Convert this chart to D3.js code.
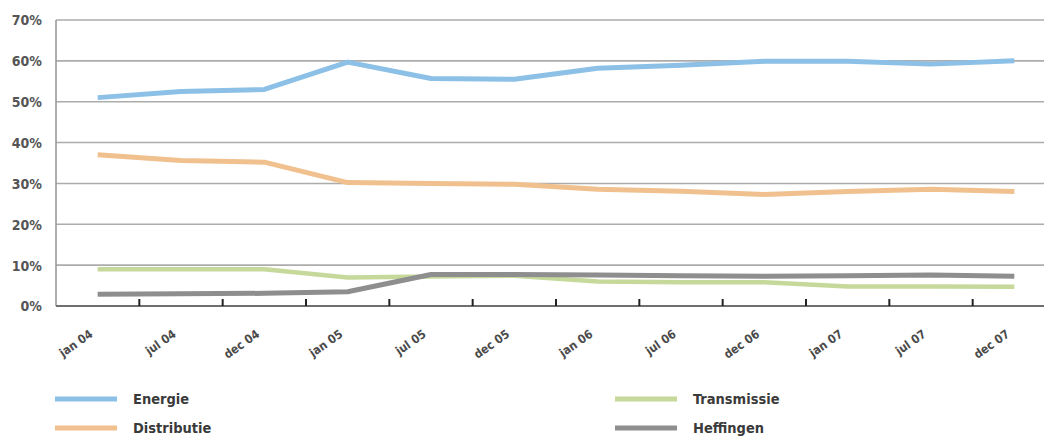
<!DOCTYPE html>
<html>
<head>
<meta charset="utf-8">
<script src="https://cdn.jsdelivr.net/npm/d3@7"></script>
<style>
  html, body { margin: 0; padding: 0; background: #fff; }
  svg { display: block; }
  text { font-family: "DejaVu Sans Condensed", "Liberation Sans Narrow", sans-serif; }
</style>
</head>
<body>
<svg id="chart" width="1044" height="436"></svg>
<script>
// Periods along the x axis
const periods = ["jan 04", "jul 04", "dec 04", "jan 05", "jul 05", "dec 05",
                 "jan 06", "jul 06", "dec 06", "jan 07", "jul 07", "dec 07"];

// Share of the total (%) per component
const energie      = [51.0, 52.5, 53.0, 59.7, 55.7, 55.5, 58.2, 58.9, 59.9, 59.9, 59.2, 60.0];
const distributie  = [37.0, 35.6, 35.2, 30.2, 30.0, 29.8, 28.6, 28.1, 27.3, 28.0, 28.6, 28.0];
const transmissie  = [9.0, 9.0, 9.0, 7.0, 7.2, 7.4, 6.0, 5.8, 5.8, 4.8, 4.8, 4.7];
const heffingen    = [2.9, 3.0, 3.1, 3.5, 7.7, 7.7, 7.6, 7.4, 7.3, 7.4, 7.6, 7.3];

const yTicks = [0, 10, 20, 30, 40, 50, 60, 70];

const series = [
  { name: "Energie",     values: energie,     color: "#8cc0e6", width: 5 },
  { name: "Distributie", values: distributie, color: "#f0c18f", width: 5 },
  { name: "Transmissie", values: transmissie, color: "#c6d99b", width: 4.5 },
  { name: "Heffingen",   values: heffingen,   color: "#8e8e8e", width: 5 }
];

const svg = d3.select("#chart");

const x = d3.scaleBand().domain(periods).range([56, 1056]).paddingInner(0).paddingOuter(0);
const y = d3.scaleLinear().domain([0, 70]).range([306, 20]);

// Horizontal gridlines
svg.append("g")
  .selectAll("line")
  .data(yTicks.filter(d => d > 0))
  .join("line")
  .attr("x1", 56).attr("x2", 1044)
  .attr("y1", d => y(d)).attr("y2", d => y(d))
  .attr("stroke", "#acacac")
  .attr("stroke-width", 1.6);

// Left axis line and labels
svg.append("line")
  .attr("x1", 56).attr("x2", 56)
  .attr("y1", y(70)).attr("y2", y(0))
  .attr("stroke", "#9a9a9a").attr("stroke-width", 1.6);

const yAxis = d3.axisLeft(y).tickValues(yTicks).tickSize(0).tickPadding(0)
  .tickFormat(d => d + "%");
const gy = svg.append("g").attr("transform", "translate(42,0)").call(yAxis);
gy.select(".domain").remove();
gy.selectAll("text")
  .attr("fill", "#555")
  .attr("font-size", 14)
  .attr("font-weight", "bold")
  .attr("dy", "0.35em");

// Baseline with period dividers
svg.append("line")
  .attr("x1", 56).attr("x2", 1044)
  .attr("y1", y(0)).attr("y2", y(0))
  .attr("stroke", "#6f6f6f").attr("stroke-width", 2);

svg.append("g")
  .selectAll("line")
  .data(periods.slice(1))
  .join("line")
  .attr("x1", d => x(d)).attr("x2", d => x(d))
  .attr("y1", y(0) - 7).attr("y2", y(0))
  .attr("stroke", "#222").attr("stroke-width", 2);

// Rotated period labels
svg.append("g")
  .selectAll("text")
  .data(periods)
  .join("text")
  .attr("transform", d => `translate(${x(d) + x.bandwidth() / 2 - 4},336) rotate(-35)`)
  .attr("text-anchor", "end")
  .attr("font-size", 12)
  .attr("font-weight", "bold")
  .attr("fill", "#4a4a4a")
  .text(d => d);

// Series lines
const line = d3.line()
  .x((d, i) => x(periods[i]) + x.bandwidth() / 2)
  .y(d => y(d));

svg.append("g")
  .selectAll("path")
  .data(series)
  .join("path")
  .attr("d", d => line(d.values))
  .attr("fill", "none")
  .attr("stroke", d => d.color)
  .attr("stroke-width", d => d.width)
  .attr("stroke-linejoin", "round");

// Legend: two columns
const legendPos = [[55, 399], [55, 428], [615, 399], [615, 428]];
const lg = svg.append("g")
  .selectAll("g")
  .data(series)
  .join("g")
  .attr("transform", (d, i) => `translate(${legendPos[i][0]},${legendPos[i][1]})`);

lg.append("line")
  .attr("x1", 0).attr("x2", 62)
  .attr("stroke", d => d.color)
  .attr("stroke-width", 5);

lg.append("text")
  .attr("x", 78)
  .attr("dy", "0.35em")
  .attr("font-size", 14.5)
  .attr("font-weight", "bold")
  .attr("fill", "#3a3a3a")
  .text(d => d.name);
</script>
</body>
</html>
